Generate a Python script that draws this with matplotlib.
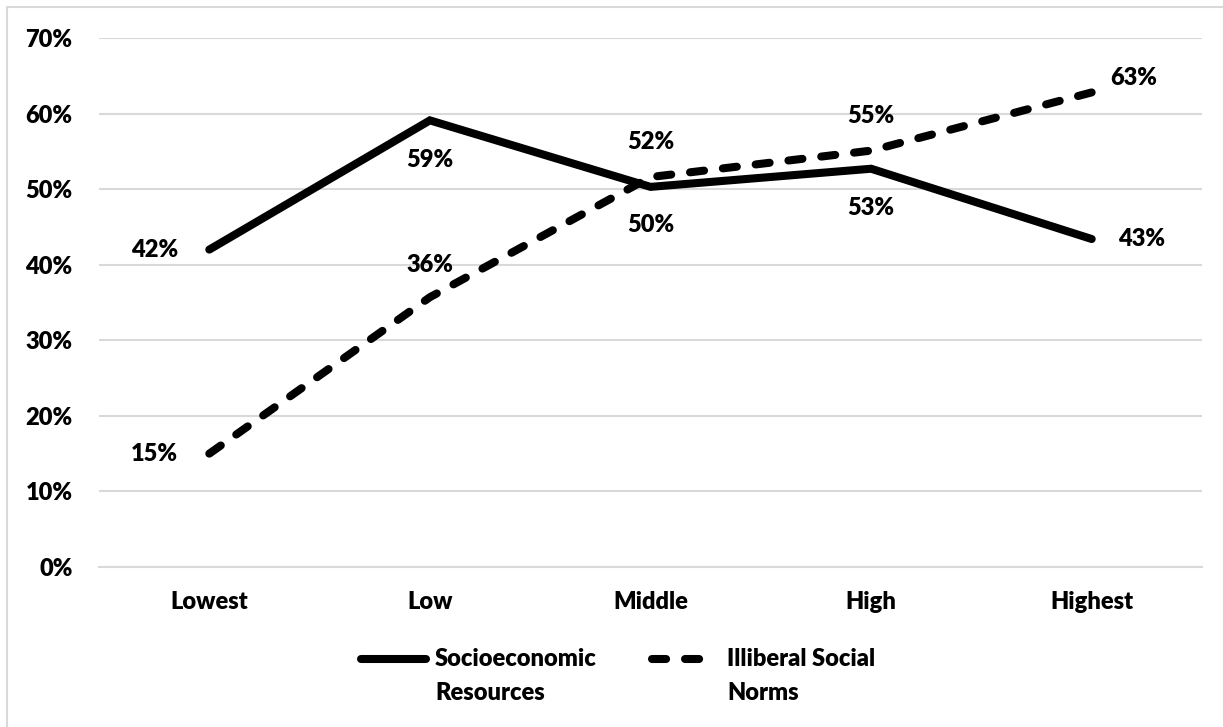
import matplotlib
matplotlib.use("Agg")
import matplotlib.pyplot as plt
from matplotlib.lines import Line2D
from matplotlib.ticker import PercentFormatter

plt.rcParams['font.family'] = ['Lato', 'DejaVu Sans']
plt.rcParams['font.weight'] = 'heavy'

categories = ["Lowest", "Low", "Middle", "High", "Highest"]
socioeconomic = [0.420, 0.591, 0.503, 0.527, 0.434]
illiberal = [0.150, 0.357, 0.516, 0.551, 0.628]
yticks = [0.0, 0.1, 0.2, 0.3, 0.4, 0.5, 0.6, 0.7]
series_names = ["Socioeconomic\nResources", "Illiberal Social\nNorms"]

FS = 17
WEIGHT = 'heavy'
LW = 5.8
DASH = (1.75, 2.35)
W, H = 1223, 727


def fx(px):
    return px / W


def fy(py):
    return (H - py) / H


fig = plt.figure(figsize=(W / 100, H / 100), dpi=100)
ax = fig.add_axes([fx(99), fy(567), (1202 - 99) / W, (567 - 38) / H])

x = list(range(len(categories)))
ax.plot(x, socioeconomic, color='black', lw=LW, solid_capstyle='round',
        solid_joinstyle='miter', zorder=3)
ax.plot(x, illiberal, color='black', lw=LW, dashes=DASH,
        dash_capstyle='round', zorder=3)

ax.set_xlim(-0.5, len(categories) - 0.5)
ax.set_ylim(0, 0.7)
ax.set_yticks(yticks)
ax.yaxis.set_major_formatter(PercentFormatter(1.0, decimals=0))
ax.set_xticks(x)
ax.set_xticklabels(categories, fontweight=WEIGHT)
for lbl in ax.get_yticklabels():
    lbl.set_fontweight(WEIGHT)
ax.tick_params(axis='both', length=0, labelsize=FS)
ax.tick_params(axis='y', pad=19)
ax.tick_params(axis='x', pad=17)
ax.grid(axis='y', color='#d9d9d9', lw=1.5)
ax.set_axisbelow(True)
for side in ['top', 'right', 'left']:
    ax.spines[side].set_visible(False)
ax.spines['bottom'].set_color('#d9d9d9')
ax.spines['bottom'].set_linewidth(1.5)

# data labels: (dx, dy) offsets in pixels
socio_off = [(-55, 0), (0, -40), (0, -38), (0, -39), (50, 0)]
illib_off = [(-55, 0), (0, 32), (0, 35), (0, 35), (42, 14)]
for series, offs in ((socioeconomic, socio_off), (illiberal, illib_off)):
    for xi, v, (dx, dy) in zip(x, series, offs):
        ax.annotate(f"{round(v * 100):.0f}%", (xi, v), xytext=(dx, dy),
                    textcoords='offset pixels', ha='center', va='center',
                    fontsize=FS, fontweight=WEIGHT)

# legend below the plot, handle beside the first line of each name
fig.add_artist(Line2D([fx(361), fx(426)], [fy(659), fy(659)], color='black',
                      lw=LW, solid_capstyle='round'))
fig.add_artist(Line2D([fx(652), fx(716)], [fy(659), fy(659)], color='black',
                      lw=LW, dashes=DASH, dash_capstyle='round'))
for x0, name in ((435, series_names[0]), (727, series_names[1])):
    for i, line in enumerate(name.split("\n")):
        fig.text(fx(x0), fy(666 + 34 * i), line, fontsize=FS,
                 fontweight=WEIGHT, ha='left', va='baseline')

# chart border (left and top edges visible)
fig.add_artist(Line2D([fx(7), fx(7), fx(1240)], [fy(740), fy(7), fy(7)],
                      color='#d9d9d9', lw=1.5))

fig.savefig("out.png", dpi=100, facecolor='white')
